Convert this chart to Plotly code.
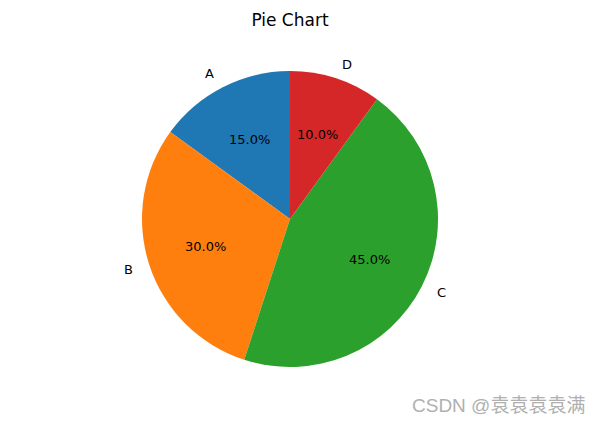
import math
import plotly.graph_objects as go

labels = ["A", "B", "C", "D"]
values = [15, 30, 45, 10]
colors = ["#1f77b4", "#ff7f0e", "#2ca02c", "#d62728"]

W, H = 601, 424
cx, cy, r = 290.0, 219.0, 148.0  # pie centre / radius in pixels (top-left origin)

total = sum(values)

fig = go.Figure(go.Pie(
    labels=labels, values=values, sort=False, direction="counterclockwise",
    rotation=-360.0 * values[0] / total,
    marker=dict(colors=colors, line=dict(width=0)),
    textinfo="none", hoverinfo="label+percent", showlegend=False,
    domain=dict(x=[(cx - r) / W, (cx + r) / W], y=[(H - cy - r) / H, (H - cy + r) / H]),
))

ann = []
start = 90.0
font = dict(family="DejaVu Sans", size=13, color="black")
for lab, v in zip(labels, values):
    sweep = 360.0 * v / total
    mid = math.radians(start + sweep / 2)
    start += sweep
    ux, uy = math.cos(mid), math.sin(mid)
    lx = (cx + 1.1 * r * ux) / W
    ly = (H - cy + 1.1 * r * uy) / H
    ann.append(dict(x=lx, y=ly, xref="paper", yref="paper", text=lab, showarrow=False,
                    xanchor="left" if ux > 0 else "right", yanchor="middle", font=font))
    px = (cx + 0.6 * r * ux) / W
    py = (H - cy + 0.6 * r * uy) / H
    ann.append(dict(x=px, y=py, xref="paper", yref="paper", text=f"{100 * v / total:.1f}%",
                    showarrow=False, xanchor="center", yanchor="middle", font=font))

ann.append(dict(x=587 / W, y=(H - 405) / H, xref="paper", yref="paper",
                text="CSDN @袁袁袁袁满", showarrow=False, xanchor="right", yanchor="middle",
                font=dict(family="Liberation Sans, Noto Sans CJK SC", size=19, color="#b0b0b0")))

fig.update_layout(
    width=W, height=H, margin=dict(l=0, r=0, t=0, b=0),
    paper_bgcolor="white", plot_bgcolor="white",
    title=dict(text="Pie Chart", x=290 / W, xanchor="center", y=(H - 20) / H, yanchor="middle",
               font=dict(family="DejaVu Sans", size=17, color="black")),
    annotations=ann,
)

fig.write_html("out.html", config={"displayModeBar": False},
               post_script="document.body.style.margin='0';")
